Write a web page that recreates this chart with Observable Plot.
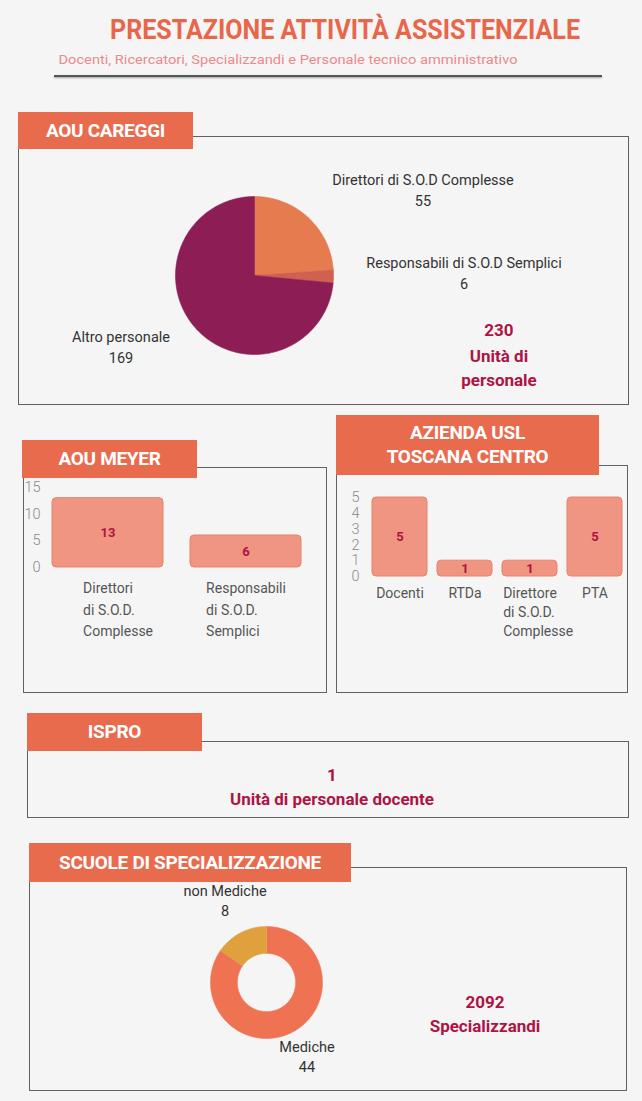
<!DOCTYPE html>
<html><head><meta charset="utf-8">
<script src="https://cdn.jsdelivr.net/npm/d3@7"></script>
<script src="https://cdn.jsdelivr.net/npm/@observablehq/plot@0.6"></script>
<style>
body{margin:0;background:#f5f5f5;}
#page{position:relative;width:642px;height:1101px;background:#f5f5f5;font-family:Roboto,"Noto Sans",sans-serif;overflow:hidden}
.box{position:absolute;border:1.5px solid #616161;box-sizing:border-box}
.tab{position:absolute;background:#e96b4e;color:#fff;font-weight:700;font-size:19px;display:flex;align-items:center;justify-content:center;text-align:center;line-height:24px;letter-spacing:-0.3px;box-sizing:border-box}
.t{position:absolute;white-space:nowrap;transform:translateX(-50%);}
.plotwrap{position:absolute}
.plotwrap svg{overflow:visible}
</style></head><body><div id="page"></div>
<script>
// ---- data ----
const careggiCats = ["Direttori di S.O.D Complesse", "Responsabili di S.O.D Semplici", "Altro personale"];
const careggiValues = [55, 6, 169];
const careggiColors = ["#e57b4f", "#d0604f", "#8d1e55"];
const meyerCats = ["Direttori\ndi S.O.D.\nComplesse", "Responsabili\ndi S.O.D.\nSemplici"];
const meyerValues = [13, 6];
const uslCats = ["Docenti", "RTDa", "Direttore\ndi S.O.D.\nComplesse", "PTA"];
const uslValues = [5, 1, 1, 5];
const isproValue = 1;
const scuoleCats = ["Mediche", "non Mediche"];
const scuoleValues = [44, 8];
const scuoleColors = ["#ef7352", "#e0a03c"];
const specializzandi = 2092;

const page = document.getElementById("page");
const MAG = "#ad1444";
const FONT = "Roboto, sans-serif";

function el(cls, css, html) {
  const d = document.createElement("div");
  d.className = cls;
  Object.assign(d.style, css);
  if (html != null) d.innerHTML = html;
  page.appendChild(d);
  return d;
}
function txt(str, cx, cy, size, weight, color, fitWidth) {
  const d = el("t", {left: cx + "px", top: (cy - 0.49 * size) + "px", fontSize: size + "px",
    lineHeight: size + "px", fontWeight: weight, color: color});
  d.textContent = str;
  if (fitWidth) {
    const w = d.getBoundingClientRect().width;
    d.style.transform = `translateX(-50%) scaleX(${fitWidth / w})`;
  }
  return d;
}
function box(l, t, r, b) { el("box", {left: l + "px", top: t + "px", width: (r - l) + "px", height: (b - t) + "px"}); }
function tab(l, t, w, h, html) { el("tab", {left: l + "px", top: t + "px", width: w + "px", height: h + "px"}, html); }
function wrap(l, t, w, h, node) {
  const d = el("plotwrap", {left: l + "px", top: t + "px", width: w + "px", height: h + "px"});
  d.appendChild(node);
}
const ctx = document.createElement("canvas").getContext("2d");
function measure(str, size, weight) {
  ctx.font = `${weight} ${size}px ${FONT}`;
  return ctx.measureText(str).width;
}

// ---- header ----
txt("PRESTAZIONE ATTIVITÀ ASSISTENZIALE", 345, 30, 28, 700, "#e8664a", 470);
txt("Docenti, Ricercatori, Specializzandi e Personale tecnico amministrativo", 288, 60, 12.5, 400, "#e88b8e", 459);
el("", {position: "absolute", left: "54px", top: "75px", width: "548px", height: "2px", background: "#555",
  boxShadow: "0 1px 2px rgba(0,0,0,0.35)"});

// ---- pie helper ----
function arcPoints(values, cats, inner) {
  const arcs = d3.pie().sort(null)(values);
  const pts = [];
  arcs.forEach((a, i) => {
    const n = Math.max(2, Math.ceil((a.endAngle - a.startAngle) / (Math.PI / 180)));
    const ang = d3.range(n + 1).map(k => a.startAngle + (a.endAngle - a.startAngle) * k / n);
    const c = cats[i];
    if (inner > 0) {
      ang.forEach(t => pts.push({cat: c, x: Math.sin(t), y: Math.cos(t)}));
      ang.slice().reverse().forEach(t => pts.push({cat: c, x: inner * Math.sin(t), y: inner * Math.cos(t)}));
    } else {
      pts.push({cat: c, x: 0, y: 0});
      ang.forEach(t => pts.push({cat: c, x: Math.sin(t), y: Math.cos(t)}));
      pts.push({cat: c, x: 0, y: 0});
    }
  });
  return pts;
}
function piePlot(values, cats, colors, size, inner) {
  return Plot.plot({
    width: size, height: size, margin: 1,
    x: {domain: [-1, 1], axis: null},
    y: {domain: [-1, 1], axis: null},
    color: {domain: cats, range: colors},
    style: {background: "transparent", overflow: "visible"},
    marks: [Plot.line(arcPoints(values, cats, inner), {x: "x", y: "y", z: "cat", fill: "cat", stroke: "cat", strokeWidth: 0.6})]
  });
}
function barPlot(cats, values, o) {
  const data = cats.map((c, i) => ({cat: c, value: values[i]}));
  const LS = 14;
  // category labels: left-aligned block whose first line is centred on the bar
  const labelMarks = data.map(d => Plot.text([d], {x: "cat", frameAnchor: "bottom", text: "cat", lineAnchor: "top",
    textAnchor: "start", dx: -measure(d.cat.split("\n")[0], LS, 400) / 2, dy: o.ldy,
    lineHeight: o.lh, fill: "#555", fontSize: LS, fontWeight: 400}));
  return Plot.plot({
    width: o.width, height: o.height,
    marginLeft: o.ml, marginRight: o.mr, marginTop: o.mt, marginBottom: o.mb,
    x: {domain: cats, axis: null, paddingInner: o.pad, paddingOuter: 0},
    y: {domain: o.domain, ticks: o.ticks, tickSize: 0, tickPadding: o.tp, label: null},
    style: {background: "transparent", overflow: "visible", fontSize: o.tickSize + "px",
      fontFamily: FONT, fontWeight: 300, color: "#8a8a8a"},
    marks: [
      Plot.barY(data, {x: "cat", y: "value", fill: "#ef9581", stroke: "#e9836d", strokeWidth: 1, rx: 4, inset: 0}),
      Plot.text(data, {x: "cat", y: d => d.value / 2, text: d => String(d.value), fill: MAG, fontWeight: 700, fontSize: 13}),
      ...labelMarks
    ]
  });
}

// ---- AOU CAREGGI ----
box(18, 136, 629, 405);
tab(18, 112, 175, 37, "AOU CAREGGI");
wrap(174, 195, 160, 160, piePlot(careggiValues, careggiCats, careggiColors, 160, 0));
const careggiLabelPos = [[423, 181], [464, 264], [121, 338]];
careggiCats.forEach((c, i) => {
  txt(c, careggiLabelPos[i][0], careggiLabelPos[i][1], 14.5, 400, "#333");
  txt(String(careggiValues[i]), careggiLabelPos[i][0], careggiLabelPos[i][1] + 21, 14.5, 400, "#333");
});
txt(String(d3.sum(careggiValues)), 499, 330, 17, 700, MAG);
txt("Unità di", 499, 356, 17, 700, MAG);
txt("personale", 499, 380, 17, 700, MAG);

// ---- AOU MEYER ----
box(23, 467, 327, 693);
tab(22, 440, 175, 38, "AOU MEYER");
wrap(22, 470, 305, 200, barPlot(meyerCats, meyerValues, {width: 305, height: 200, ml: 30, mr: 25, mt: 17, mb: 103,
  pad: 0.195, domain: [0, 15], ticks: 3, tp: 12, tickSize: 14.5, ldy: 10, lh: 1.55}));

// ---- AZIENDA USL ----
box(336, 465, 628, 693);
tab(336, 415, 263, 60, "AZIENDA USL<br>TOSCANA CENTRO");
wrap(336, 470, 292, 200, barPlot(uslCats, uslValues, {width: 292, height: 200, ml: 36, mr: 6, mt: 27, mb: 94,
  pad: 0.154, domain: [0, 5], ticks: 5, tp: 13, tickSize: 14.5, ldy: 8, lh: 1.36}));

// ---- ISPRO ----
box(27, 741, 629, 818);
tab(27, 713, 175, 38, "ISPRO");
txt(String(isproValue), 332, 775, 17, 700, MAG);
txt("Unità di personale docente", 332, 799, 17, 700, MAG);

// ---- SCUOLE ----
box(29, 867, 627, 1091);
tab(29, 843, 322, 39, "SCUOLE DI SPECIALIZZAZIONE");
wrap(209, 925, 114, 114, piePlot(scuoleValues, scuoleCats, scuoleColors, 114, 0.52));
const scuoleLabelPos = [[307, 1048], [225, 892]];
scuoleCats.forEach((c, i) => {
  txt(c, scuoleLabelPos[i][0], scuoleLabelPos[i][1], 14.5, 400, "#333");
  txt(String(scuoleValues[i]), scuoleLabelPos[i][0], scuoleLabelPos[i][1] + 20, 14.5, 400, "#333");
});
txt(String(specializzandi), 485, 1002, 17, 700, MAG);
txt("Specializzandi", 485, 1026, 17, 700, MAG);
</script></body></html>
